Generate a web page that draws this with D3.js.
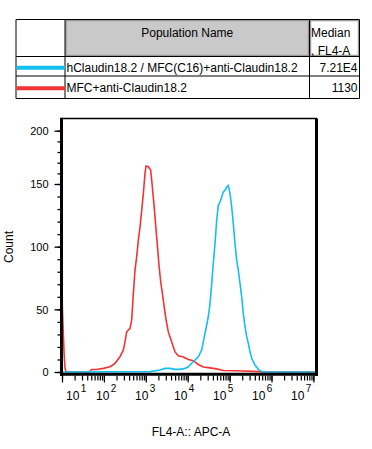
<!DOCTYPE html>
<html>
<head>
<meta charset="utf-8">
<script src="https://cdn.jsdelivr.net/npm/d3@7"></script>
<style>
  html, body { margin: 0; padding: 0; background: #fff; }
  svg { display: block; font-family: "Liberation Sans", Arial, sans-serif; }
</style>
</head>
<body>
<svg id="chart" width="372" height="449"></svg>
<script>
// ---------------- DATA ----------------
const populations = ["hClaudin18.2 / MFC(C16)+anti-Claudin18.2", "MFC+anti-Claudin18.2"];
const medians = ["7.21E4", "1130"];
const seriesColors = ["#14bff0", "#f23434"];
const headerPop = "Population Name";
const headerMedian = ["Median", ", FL4-A"];

const xTickExponents = [1, 2, 3, 4, 5, 6, 7];
const yMajorTicks = [0, 50, 100, 150, 200];
const yMinorTicks = [0,10,20,30,40,50,60,70,80,90,100,110,120,130,140,150,160,170,180,190,200];

// red: MFC+anti-Claudin18.2  (channel value, count)
const redX = [10, 10.6, 11.2, 11.8, 12.5, 44.9, 51, 67, 97, 140, 184, 242, 291, 319, 350, 420, 460, 505, 552, 605, 664, 728, 798, 874, 958, 1012, 1149, 1309, 1433, 1571, 1722, 1888, 2067, 2266, 2484, 2719, 3034, 3450, 4147, 4980, 5977, 7870, 10350, 13620, 17910, 23560, 31030, 49000, 70800, 147500, 532000, 583000, 12000000];
const redCount = [60, 36, 15, 3, 0, 0, 2, 2, 2.9, 4.2, 6.9, 12.2, 17.5, 24.2, 32.1, 34.8, 41.4, 62.7, 81.3, 91.9, 105.2, 115.8, 129, 142.4, 160, 166.9, 166.2, 163, 147.6, 133, 117, 101, 85, 72, 63, 53, 42, 32, 24, 16, 13, 12, 10, 9, 6, 4, 3.5, 2.5, 1.2, 1, 0.3, 0, 0];

// blue: hClaudin18.2 / MFC(C16)+anti-Claudin18.2
const blueX = [10, 1259, 2183, 2872, 3782, 4980, 6550, 8630, 10350, 12440, 14930, 17910, 21580, 23560, 25880, 28380, 31030, 34040, 37410, 40830, 44870, 49170, 53700, 59020, 64740, 70800, 77620, 85270, 93100, 102300, 112200, 122500, 134500, 147500, 161400, 177100, 194500, 212400, 233300, 255900, 279300, 306900, 336500, 368000, 403600, 443600, 484200, 532000, 636800, 12000000];
const blueCount = [0, 0.3, 1.6, 2.9, 2.9, 2.1, 2.1, 2.9, 4.2, 7.0, 9.6, 12.2, 17.5, 24.2, 30.8, 37.5, 44.1, 54.8, 70.7, 86.6, 102.5, 121.1, 133, 135.7, 139.6, 143.6, 145, 147.6, 148.8, 142.3, 131.7, 118.4, 102.5, 89.2, 81.3, 70.7, 60, 46.7, 36.1, 28.2, 22.8, 16.2, 10.9, 8.2, 5.6, 3.7, 2.1, 1.1, 0, 0];

const xLabel = "FL4-A:: APC-A";
const yLabel = "Count";

// ---------------- DRAW ----------------
const svg = d3.select("#chart");
const font = '"Liberation Sans", Arial, sans-serif';

// ---- table ----
const tbl = svg.append("g");
const tL = 16, tR = 359.5, tT = 19.5, tH1 = 56.5, tH2 = 76, tB = 98.5, c1 = 65, c2 = 309.5;

// header grey cell
tbl.append("rect").attr("x", c1 + 1).attr("y", tT + 1).attr("width", c2 - c1 - 2).attr("height", tH1 - tT - 2)
  .attr("fill", "#c9c9c9").attr("stroke", "#9a9a9a").attr("stroke-width", 1.5);
// median header cell frame
tbl.append("rect").attr("x", c2 + 1).attr("y", tT + 1).attr("width", tR - c2 - 2).attr("height", tH1 - tT - 2)
  .attr("fill", "#fff").attr("stroke", "#9a9a9a").attr("stroke-width", 1.5);

// borders
const hLines = [tT, tH1, tH2, tB];
tbl.selectAll("line.h").data(hLines).join("line")
  .attr("x1", tL).attr("x2", tR).attr("y1", d => d).attr("y2", d => d)
  .attr("stroke", "#000").attr("stroke-width", 1);
tbl.append("line").attr("x1", tL).attr("x2", tL).attr("y1", tT).attr("y2", tB).attr("stroke", "#000");
tbl.append("line").attr("x1", tR).attr("x2", tR).attr("y1", tT).attr("y2", tB).attr("stroke", "#000");
tbl.append("line").attr("x1", c1).attr("x2", c1).attr("y1", tT).attr("y2", tB).attr("stroke", "#000");
tbl.append("line").attr("x1", c2).attr("x2", c2).attr("y1", tT).attr("y2", tB).attr("stroke", "#000");

tbl.append("text").attr("x", (c1 + c2) / 2).attr("y", 37).attr("text-anchor", "middle")
  .attr("font-size", 12).attr("fill", "#000").text(headerPop);
tbl.selectAll("text.mh").data(headerMedian).join("text")
  .attr("x", c2 + 1.5).attr("y", (d, i) => 37 + i * 18).attr("font-size", 12).attr("fill", "#000").text(d => d);

const rowBase = [72, 92];
const rowMid = [67.8, 88.3];
populations.forEach((p, i) => {
  tbl.append("line").attr("x1", tL + 0.5).attr("x2", c1).attr("y1", rowMid[i]).attr("y2", rowMid[i])
    .attr("stroke", seriesColors[i]).attr("stroke-width", 4);
  tbl.append("text").attr("x", c1 + 1.5).attr("y", rowBase[i]).attr("font-size", 12).attr("fill", "#000").text(p);
  tbl.append("text").attr("x", tR - 2).attr("y", rowBase[i]).attr("text-anchor", "end")
    .attr("font-size", 12).attr("fill", "#000").text(medians[i]);
});

// ---- plot ----
const pL = 62, pR = 317, pT = 118.5, pB = 372;
const x = d3.scaleLog().domain([10, Math.pow(10, 7.086)]).range([pL, pR]);
const y = d3.scaleLinear().domain([0, 150, 200]).range([pB, 184, 130.7]);

svg.append("defs").append("clipPath").attr("id", "clip")
  .append("rect").attr("x", pL).attr("y", pT).attr("width", pR - pL).attr("height", pB - pT + 1);

const line = d3.line().x(d => x(d[0])).y(d => y(d[1]));
const plot = svg.append("g").attr("clip-path", "url(#clip)");
plot.append("path").datum(d3.zip(redX, redCount)).attr("d", line)
  .attr("fill", "none").attr("stroke", seriesColors[1]).attr("stroke-width", 1.6);
plot.append("path").datum(d3.zip(blueX, blueCount)).attr("d", line)
  .attr("fill", "none").attr("stroke", seriesColors[0]).attr("stroke-width", 1.6);

// frame: top thin, right thick
svg.append("line").attr("x1", pL).attr("x2", pR).attr("y1", pT).attr("y2", pT).attr("stroke", "#000").attr("stroke-width", 1.5);
svg.append("line").attr("x1", pR - 0.5).attr("x2", pR - 0.5).attr("y1", pT).attr("y2", 376).attr("stroke", "#000").attr("stroke-width", 3);

// y axis
const yMinorAxis = d3.axisLeft(y).tickValues(yMinorTicks).tickSize(3).tickFormat("");
const gyMin = svg.append("g").attr("transform", `translate(${pL - 1.5},0)`).call(yMinorAxis);
const yMajorAxis = d3.axisLeft(y).tickValues(yMajorTicks).tickSize(6).tickPadding(6).tickFormat(d3.format("d"));
const gy = svg.append("g").attr("transform", `translate(${pL - 1.5},0)`).call(yMajorAxis);
[gyMin, gy].forEach(g => { g.select(".domain").remove(); g.selectAll("line").attr("stroke", "#000").attr("stroke-width", 1.3); });
gy.selectAll("text").attr("font-size", 11).attr("font-family", font).attr("fill", "#000").attr("dy", "0.36em");
svg.append("line").attr("x1", pL - 0.5).attr("x2", pL - 0.5).attr("y1", pT - 0.7).attr("y2", 376).attr("stroke", "#000").attr("stroke-width", 3);

// x axis
const minorVals = [];
for (let e = 1; e <= 7; e++) for (let k = 1; k <= 9; k++) { const v = k * Math.pow(10, e); if (v <= x.domain()[1]) minorVals.push(v); }
const xMinorAxis = d3.axisBottom(x).tickValues(minorVals).tickSize(5).tickFormat("");
const gxMin = svg.append("g").attr("transform", `translate(0,${375.5})`).call(xMinorAxis);
const xMajorAxis = d3.axisBottom(x).tickValues(xTickExponents.map(e => Math.pow(10, e))).tickSize(7).tickFormat("");
const gx = svg.append("g").attr("transform", `translate(0,${375.5})`).call(xMajorAxis);
[gxMin, gx].forEach(g => { g.select(".domain").remove(); g.selectAll("line").attr("stroke", "#000").attr("stroke-width", 1.2); });
svg.append("line").attr("x1", pL - 2).attr("x2", pR + 1).attr("y1", 374.3).attr("y2", 374.3).attr("stroke", "#000").attr("stroke-width", 3);

// x tick labels (FlowJo style: 10 with superscript exponent)
const labelLeft = d3.scaleLinear().domain([1, 2, 7]).range([66, 96, 291]);
const xl = svg.append("g");
xTickExponents.forEach(e => {
  const t = xl.append("text").attr("x", labelLeft(e)).attr("y", 400).attr("font-size", 12).attr("fill", "#000");
  t.append("tspan").text("10");
  t.append("tspan").attr("font-size", 10).attr("dx", 1.5).attr("dy", -8.5).text(e);
});

// axis titles
svg.append("text").attr("x", 191).attr("y", 436).attr("text-anchor", "middle").attr("font-size", 12).attr("fill", "#000").text(xLabel);
svg.append("text").attr("transform", "translate(12.5,247) rotate(-90)").attr("text-anchor", "middle")
  .attr("font-size", 12).attr("fill", "#000").text(yLabel);
</script>
</body>
</html>
